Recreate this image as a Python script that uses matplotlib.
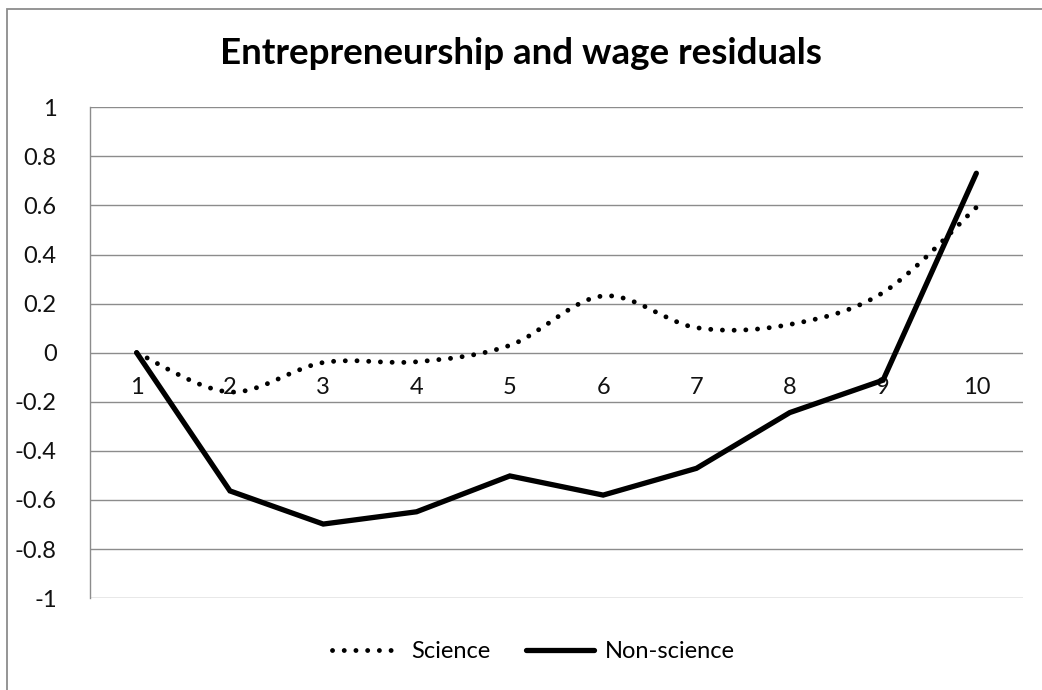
import matplotlib
matplotlib.use("Agg")
import matplotlib.pyplot as plt
from matplotlib.path import Path
from matplotlib.patches import PathPatch, Rectangle
from matplotlib.lines import Line2D
from matplotlib.transforms import offset_copy
import numpy as np

plt.rcParams['font.family'] = ['Lato', 'DejaVu Sans']

# Wage-residual deciles
deciles = [1, 2, 3, 4, 5, 6, 7, 8, 9, 10]
science = [0.0, -0.16, -0.04, -0.037, 0.03, 0.231, 0.102, 0.115, 0.245, 0.592]
non_science = [0.0, -0.563, -0.698, -0.648, -0.502, -0.58, -0.471, -0.244, -0.112, 0.731]
y_ticks = [-1, -0.8, -0.6, -0.4, -0.2, 0, 0.2, 0.4, 0.6, 0.8, 1]
y_tick_labels = ['-1', '-0.8', '-0.6', '-0.4', '-0.2', '0', '0.2', '0.4', '0.6', '0.8', '1']
title = 'Entrepreneurship and wage residuals'

W, H = 1042, 690
fig = plt.figure(figsize=(W / 100, H / 100), dpi=100)

# plot area in pixels
left, right, top, bottom = 90, 1023, 107.2, 598.2
ax = fig.add_axes([left / W, 1 - bottom / H, (right - left) / W, (bottom - top) / H])
ax.set_xlim(0.5, 10.5)
ax.set_ylim(-1, 1)

grid_c = '#8c8c8c'
text_c = '#111111'
for yv in y_ticks:
    ax.axhline(yv, color=grid_c, lw=1.0, zorder=1)
for s in ['top', 'right', 'bottom']:
    ax.spines[s].set_visible(False)
ax.spines['left'].set_color(grid_c)
ax.spines['left'].set_linewidth(1.0)
ax.set_xticks([])
ax.set_yticks(y_ticks)
ax.set_yticklabels(y_tick_labels, fontsize=17, color=text_c)
ax.tick_params(axis='y', length=0, pad=24)

# category labels sit just under the zero line
lab_tr = offset_copy(ax.transData, fig=fig, x=0, y=-35, units='dots')
for d in deciles:
    ax.text(d, 0, str(d), transform=lab_tr, ha='center', va='center',
            fontsize=17, color=text_c)


def smooth_path(xs, ys):
    """Bezier path through the points, Excel-style smoothing."""
    pts = np.column_stack([xs, ys]).astype(float)
    n = len(pts)
    verts = [pts[0]]
    codes = [Path.MOVETO]
    for i in range(n - 1):
        p0 = pts[i - 1] if i > 0 else pts[i]
        p1 = pts[i]
        p2 = pts[i + 1]
        p3 = pts[i + 2] if i + 2 < n else pts[i + 1]
        c1 = p1 + (p2 - p0) / 6.0
        c2 = p2 - (p3 - p1) / 6.0
        verts += [c1, c2, p2]
        codes += [Path.CURVE4] * 3
    return Path(np.array(verts), codes)


dot_lw = 3.5
dot_pattern = (0, (0.01, 2.4))
solid_lw = 3.8
ax.add_patch(PathPatch(smooth_path(deciles, science), fill=False,
                       edgecolor='black', lw=dot_lw, linestyle=dot_pattern,
                       capstyle='round', zorder=3))
ax.plot(deciles, non_science, color='black', lw=solid_lw, solid_joinstyle='miter',
        solid_capstyle='round', zorder=4)

fig.text(0.5, 1 - 54 / H, title, ha='center', va='center', fontsize=26.5,
         fontweight='bold', color='black')

handles = [
    Line2D([], [], color='black', lw=dot_lw, linestyle=dot_pattern,
           dash_capstyle='round'),
    Line2D([], [], color='black', lw=solid_lw, solid_capstyle='round'),
]
fig.legend(handles, ['Science', 'Non-science'], loc='center',
           bbox_to_anchor=(0.512, 1 - 652 / H), ncol=2, frameon=False,
           fontsize=17, handlelength=2.9, handletextpad=0.45, columnspacing=1.5)

# chart border
fig.patches.append(Rectangle((7 / W, -0.05), 1.0, 1 - 9 / H + 0.05,
                             transform=fig.transFigure, fill=False,
                             edgecolor='#8c8c8c', lw=1.3))

fig.savefig('out.png', dpi=100)
